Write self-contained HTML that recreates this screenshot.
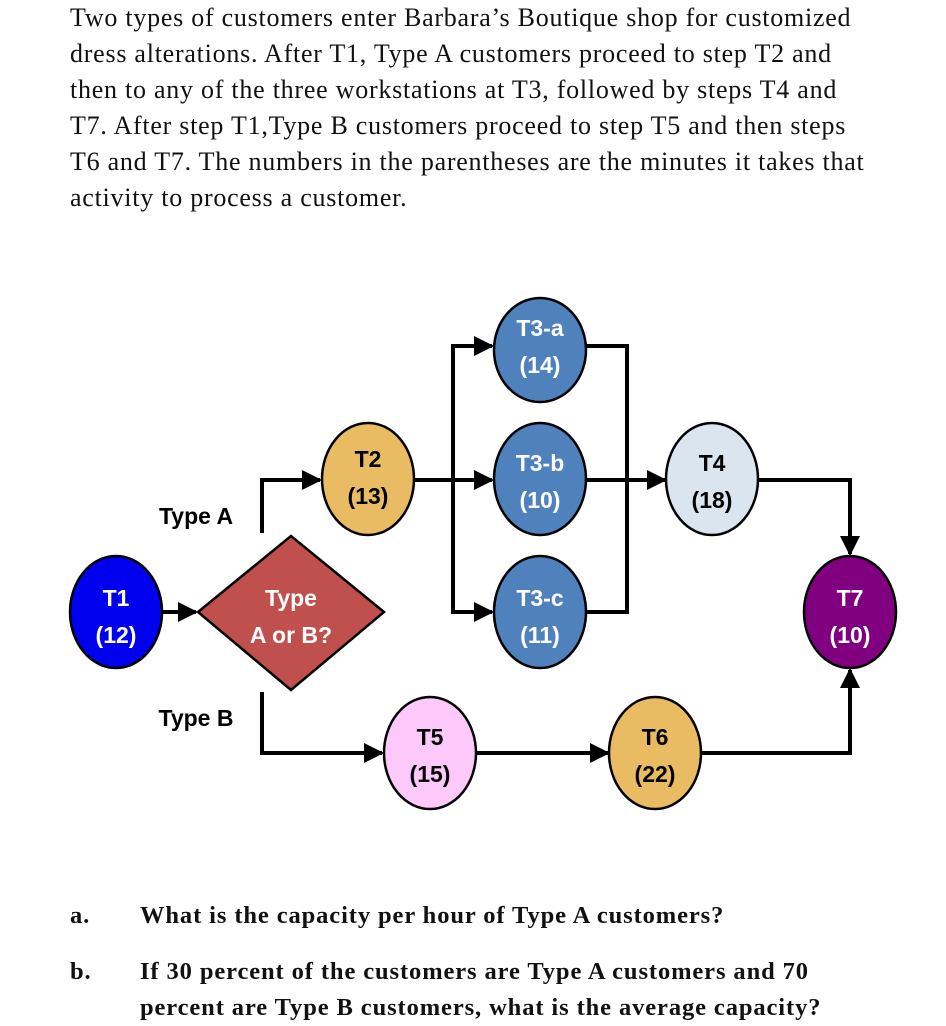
<!DOCTYPE html>
<html><head><meta charset="utf-8"><style>
body{margin:0;background:#fff;width:946px;height:1024px;overflow:hidden;position:relative}
.p{position:absolute;left:70px;top:0;font-family:"Liberation Serif",serif;font-size:26px;line-height:36px;color:#111;width:876px;letter-spacing:0.75px;white-space:nowrap}
.q{position:absolute;font-family:"Liberation Serif",serif;font-weight:bold;font-size:24.5px;line-height:36px;color:#111;letter-spacing:0.9px;white-space:nowrap}
svg{position:absolute;left:0;top:0}
svg text{font-family:"Liberation Sans",sans-serif;font-weight:bold;font-size:23px;text-anchor:middle}
</style></head><body>
<div class="p">Two types of customers enter Barbara’s Boutique shop for customized<br>dress alterations. After T1, Type A customers proceed to step T2 and<br>then to any of the three workstations at T3, followed by steps T4 and<br>T7. After step T1,Type B customers proceed to step T5 and then steps<br>T6 and T7. The numbers in the parentheses are the minutes it takes that<br>activity to process a customer.</div>
<svg width="946" height="1024" viewBox="0 0 946 1024">
<defs><marker id="a" markerWidth="5" markerHeight="5" refX="4.5" refY="2.5" orient="auto" markerUnits="strokeWidth"><path d="M0,0L5,2.5L0,5z" fill="#000"/></marker></defs>
<g stroke="#000" stroke-width="4" fill="none">
<path d="M162,612H196" marker-end="url(#a)"/>
<path d="M262,533V480H320" marker-end="url(#a)"/>
<path d="M414,480H492" marker-end="url(#a)"/>
<path d="M492,346H453V612H492" />
<path d="M453,346H492" marker-end="url(#a)"/>
<path d="M453,612H492" marker-end="url(#a)"/>
<path d="M586,346H627V612H586"/>
<path d="M586,480H665" marker-end="url(#a)"/>
<path d="M758,480H850V554" marker-end="url(#a)"/>
<path d="M262,692V753H382" marker-end="url(#a)"/>
<path d="M476,753H608" marker-end="url(#a)"/>
<path d="M700,753H850V670" marker-end="url(#a)"/>
</g>
<g stroke="#000" stroke-width="2.5">
<ellipse cx="116" cy="612" rx="46" ry="56" fill="#0000ee"/>
<polygon points="198,612 291,536 384,612 291,690" fill="#c0504d"/>
<ellipse cx="368" cy="479" rx="46" ry="56" fill="#e9bb62"/>
<ellipse cx="540" cy="350" rx="46" ry="52" fill="#4f81bd"/>
<ellipse cx="540" cy="479" rx="46" ry="56" fill="#4f81bd"/>
<ellipse cx="540" cy="612" rx="46" ry="56" fill="#4f81bd"/>
<ellipse cx="712" cy="479" rx="46" ry="56" fill="#dbe5ef"/>
<ellipse cx="850" cy="612" rx="46" ry="56" fill="#800080"/>
<ellipse cx="430" cy="753" rx="46" ry="56" fill="#fdc9fb"/>
<ellipse cx="655" cy="753" rx="46" ry="56" fill="#e9bb62"/>
</g>
<g fill="#fff">
<text x="116" y="606">T1</text><text x="116" y="643">(12)</text>
<text x="291" y="606">Type</text><text x="291" y="643">A or B?</text>
<text x="540" y="336">T3-a</text><text x="540" y="373">(14)</text>
<text x="540" y="471">T3-b</text><text x="540" y="508">(10)</text>
<text x="540" y="606">T3-c</text><text x="540" y="643">(11)</text>
<text x="850" y="606">T7</text><text x="850" y="643">(10)</text>
</g>
<g fill="#000">
<text x="368" y="467">T2</text><text x="368" y="504">(13)</text>
<text x="712" y="471">T4</text><text x="712" y="508">(18)</text>
<text x="430" y="745">T5</text><text x="430" y="782">(15)</text>
<text x="655" y="745">T6</text><text x="655" y="782">(22)</text>
<text x="196" y="524">Type A</text>
<text x="196" y="726">Type B</text>
</g>
</svg>
<div class="q" style="left:70px;top:898px">a.</div>
<div class="q" style="left:140px;top:898px">What is the capacity per hour of Type A customers?</div>
<div class="q" style="left:70px;top:954px">b.</div>
<div class="q" style="left:140px;top:954px">If 30 percent of the customers are Type A customers and 70<br>percent are Type B customers, what is the average capacity?</div>
</body></html>
